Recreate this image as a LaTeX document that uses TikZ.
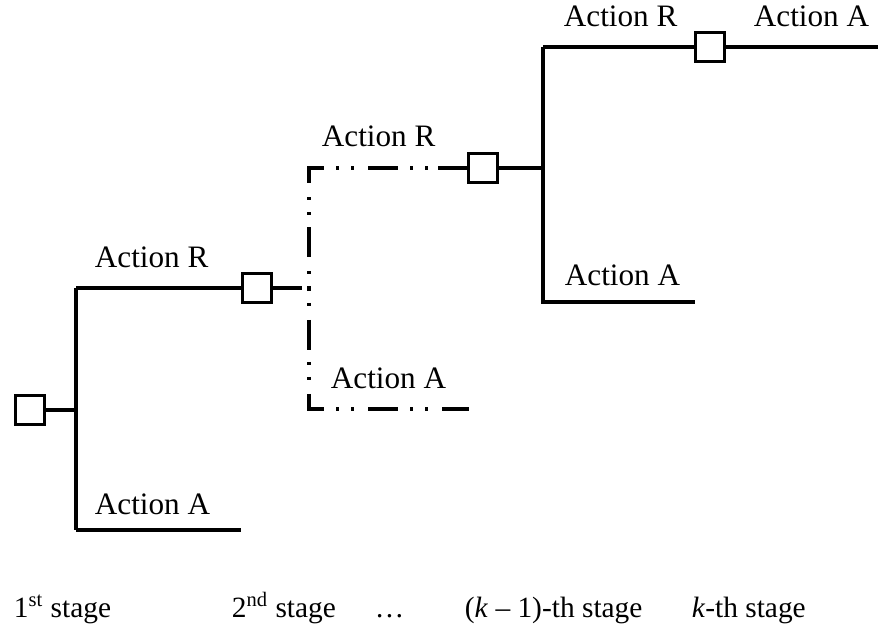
\documentclass[tikz,border=0pt]{standalone}
\usepackage{fontspec}
\setmainfont{Liberation Serif}
\usetikzlibrary{positioning}

\begin{document}
\begin{tikzpicture}[
    x=0.5pt, y=-0.5pt,
    line width=1.9pt,
    font=\fontsize{15.6}{18}\selectfont,
    stagebox/.style={draw, line width=1.9pt, minimum size=14.5pt, inner sep=0pt},
    branch/.style={line width=1.9pt},
    skipped/.style={line width=1.9pt,
                    dash pattern=on 15pt off 6pt on 1.5pt off 6pt on 1.5pt off 7pt},
    lbl/.style={anchor=base west, inner sep=0pt},
    stagelbl/.style={lbl, font=\fontsize{14.7}{17}\selectfont}
]
\useasboundingbox (0,0) rectangle (878,630);

% --- 1st stage ---
\node[stagebox] (b1) at (30,410) {};
\coordinate (j1) at (76,410);
\coordinate (r1) at (76,288);
\coordinate (a1) at (76,530);
\coordinate (a1e) at (241,530);
\node[stagebox] (b2) at (257,288) {};
\coordinate (s2) at (302,288);

\draw[branch] (b1) -- (j1);
\draw[branch] (r1) -- (a1);
\draw[branch] (r1) -- (b2);
\draw[branch] (a1) -- (a1e);
\draw[branch] (b2) -- (s2);

\node[lbl] (lr1) at (93,268) {Action R};
\node[lbl] (la1) at (93,515) {Action A};

% --- 2nd ... (k-1)-th stage (skipped) ---
\coordinate (jm) at (309,288);
\coordinate (r2) at (309,168);
\coordinate (a2) at (309,409);
\coordinate (a2e) at (469,409);
\coordinate (s3) at (438,168);
\node[stagebox] (b3) at (483,168) {};

\draw[skipped, dash phase=21.5pt] (jm) -- (r2) -- (s3);
\draw[skipped, dash phase=21pt] (jm) -- (a2) -- (a2e);
\draw[branch] (s3) -- (b3);

\node[lbl] (lr2) at (320,147) {Action R};
\node[lbl] (la2) at (329,389) {Action A};

% --- k-th stage ---
\coordinate (j3) at (543,168);
\coordinate (r3) at (543,47);
\coordinate (a3) at (543,302);
\coordinate (a3e) at (695,302);
\node[stagebox] (b4) at (710,47) {};
\coordinate (e4) at (878,47);

\draw[branch] (b3) -- (j3);
\draw[branch] (r3) -- (a3) -- (a3e);
\draw[branch] (r3) -- (b4);
\draw[branch] (b4) -- (e4);

\node[lbl] (lr3) at (562,27) {Action R};
\node[lbl] (la3) at (563,286) {Action A};
\node[lbl] (la4) at (752,27) {Action A};

% --- stage labels ---
\node[stagelbl] (st1) at (12,617) {1\textsuperscript{st} stage};
\node[stagelbl] (st2) at (230,617) {2\textsuperscript{nd} stage};
\node[stagelbl] (st3) at (373,617) {\dots};
\node[stagelbl] (st4) at (463,617) {(\textit{k} \textendash{} 1)-th stage};
\node[stagelbl] (st5) at (690,617) {\textit{k}-th stage};

\end{tikzpicture}
\end{document}
